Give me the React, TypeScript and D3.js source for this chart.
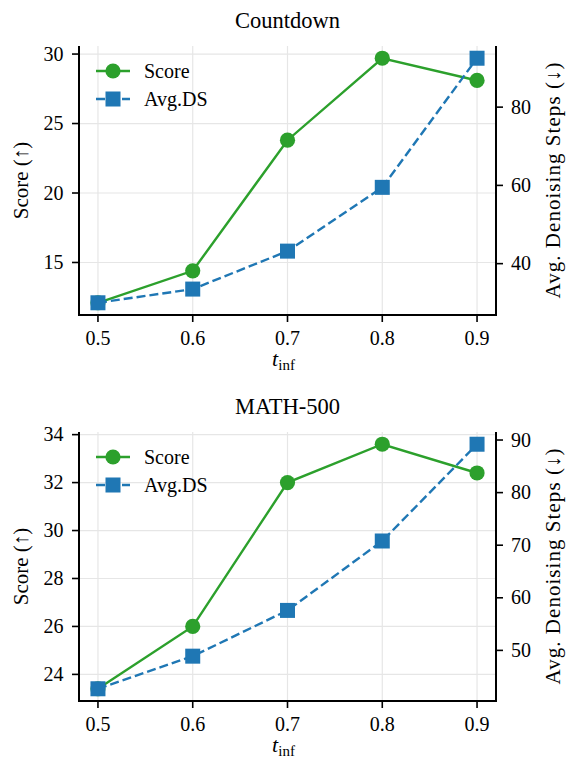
import React from "react";
import * as d3 from "d3";

const tInf = [0.5, 0.6, 0.7, 0.8, 0.9];

const countdownScore = [12.1, 14.4, 23.8, 29.7, 28.1];
const countdownSteps = [30.0, 33.5, 43.2, 59.5, 92.5];
const countdownScoreTicks = [15, 20, 25, 30];
const countdownStepTicks = [40, 60, 80];

const mathScore = [23.4, 26.0, 32.0, 33.6, 32.4];
const mathSteps = [42.7, 48.9, 57.6, 70.8, 89.2];
const mathScoreTicks = [24, 26, 28, 30, 32, 34];
const mathStepTicks = [50, 60, 70, 80, 90];

const GREEN = "#2ca02c";
const BLUE = "#1f77b4";
const FONT = "'Liberation Serif', 'Times New Roman', serif";

// matplotlib-style 5% margin around the data
function padded(vals: number[]) {
  const [lo, hi] = d3.extent(vals) as [number, number];
  const m = (hi - lo) * 0.05;
  return [lo - m, hi + m];
}

type PanelProps = {
  title: string;
  top: number;
  score: number[];
  steps: number[];
  scoreTicks: number[];
  stepTicks: number[];
};

function Panel({ title, top, score, steps, scoreTicks, stepTicks }: PanelProps) {
  const left = 79;
  const right = 496;
  const h = 269;
  const bottom = top + h;

  const x = d3.scaleLinear().domain(padded(tInf)).range([left, right]);
  const yL = d3.scaleLinear().domain(padded(score)).range([bottom, top]);
  const yR = d3.scaleLinear().domain(padded(steps)).range([bottom, top]);

  const scoreLine = d3
    .line<number>()
    .x((_, i) => x(tInf[i]))
    .y((d) => yL(d));
  const stepLine = d3
    .line<number>()
    .x((_, i) => x(tInf[i]))
    .y((d) => yR(d));

  const midX = (left + right) / 2;
  const midY = (top + bottom) / 2;
  const sq = 15;

  return (
    <g fontFamily={FONT} fill="#000">
      {/* grid */}
      {tInf.map((t) => (
        <line key={"gx" + t} x1={x(t)} x2={x(t)} y1={top} y2={bottom} stroke="#e6e6e6" strokeWidth={1.2} />
      ))}
      {scoreTicks.map((v) => (
        <line key={"gy" + v} x1={left} x2={right} y1={yL(v)} y2={yL(v)} stroke="#e6e6e6" strokeWidth={1.2} />
      ))}

      {/* score series */}
      <path d={scoreLine(score) || ""} fill="none" stroke={GREEN} strokeWidth={2.4} />
      {score.map((v, i) => (
        <circle key={"c" + i} cx={x(tInf[i])} cy={yL(v)} r={7.6} fill={GREEN} />
      ))}

      {/* avg. denoising steps series */}
      <path d={stepLine(steps) || ""} fill="none" stroke={BLUE} strokeWidth={2.4} strokeDasharray="9,4" />
      {steps.map((v, i) => (
        <rect key={"s" + i} x={x(tInf[i]) - sq / 2} y={yR(v) - sq / 2} width={sq} height={sq} fill={BLUE} />
      ))}

      {/* spines */}
      <line x1={left} x2={left} y1={top} y2={bottom} stroke="#000" strokeWidth={2} />
      <line x1={right} x2={right} y1={top} y2={bottom} stroke="#000" strokeWidth={2} />
      <line x1={left - 1} x2={right + 1} y1={bottom} y2={bottom} stroke="#000" strokeWidth={2} />

      {/* x ticks */}
      {tInf.map((t) => (
        <g key={"xt" + t}>
          <line x1={x(t)} x2={x(t)} y1={bottom} y2={bottom + 7} stroke="#000" strokeWidth={1.6} />
          <text x={x(t)} y={bottom + 30} fontSize={20} textAnchor="middle">
            {t.toFixed(1)}
          </text>
        </g>
      ))}

      {/* left ticks */}
      {scoreTicks.map((v) => (
        <g key={"lt" + v}>
          <line x1={left - 7} x2={left} y1={yL(v)} y2={yL(v)} stroke="#000" strokeWidth={1.6} />
          <text x={left - 15.5} y={yL(v) + 6.5} fontSize={20} textAnchor="end">
            {v}
          </text>
        </g>
      ))}

      {/* right ticks */}
      {stepTicks.map((v) => (
        <g key={"rt" + v}>
          <line x1={right} x2={right + 7} y1={yR(v)} y2={yR(v)} stroke="#000" strokeWidth={1.6} />
          <text x={right + 15} y={yR(v) + 6.5} fontSize={20} textAnchor="start">
            {v}
          </text>
        </g>
      ))}

      {/* title */}
      <text x={midX} y={top - 18} fontSize={22.5} textAnchor="middle">
        {title}
      </text>

      {/* axis labels */}
      <text x={midX - 4} y={bottom + 51} fontSize={22} textAnchor="middle">
        <tspan fontStyle="italic">t</tspan>
        <tspan fontSize={15} dy={3.5}>inf</tspan>
      </text>
      <text transform={`translate(28,${midY}) rotate(-90)`} fontSize={21} textAnchor="middle">
        Score (↑)
      </text>
      <text
        transform={`translate(560,${midY}) rotate(-90)`}
        fontSize={21}
        textAnchor="middle"
        textLength={236}
        lengthAdjust="spacing"
      >
        Avg. Denoising Steps (↓)
      </text>

      {/* legend */}
      <g transform={`translate(96,${top + 25})`}>
        <line x1={0} x2={34} y1={0} y2={0} stroke={GREEN} strokeWidth={2.4} />
        <circle cx={17} cy={0} r={7.6} fill={GREEN} />
        <text x={48} y={6.5} fontSize={20}>
          Score
        </text>
        <line x1={0} x2={34} y1={28} y2={28} stroke={BLUE} strokeWidth={2.4} strokeDasharray="9,4" />
        <rect x={17 - sq / 2} y={28 - sq / 2} width={sq} height={sq} fill={BLUE} />
        <text x={48} y={34.5} fontSize={20}>
          Avg.DS
        </text>
      </g>
    </g>
  );
}

export default function App() {
  return (
    <svg
      width={575}
      height={760}
      style={{ position: "absolute", left: 0, top: 0, background: "#fff" }}
    >
      <rect width={575} height={760} fill="#fff" />
      <Panel
        title="Countdown"
        top={46}
        score={countdownScore}
        steps={countdownSteps}
        scoreTicks={countdownScoreTicks}
        stepTicks={countdownStepTicks}
      />
      <Panel
        title="MATH-500"
        top={432}
        score={mathScore}
        steps={mathSteps}
        scoreTicks={mathScoreTicks}
        stepTicks={mathStepTicks}
      />
    </svg>
  );
}
